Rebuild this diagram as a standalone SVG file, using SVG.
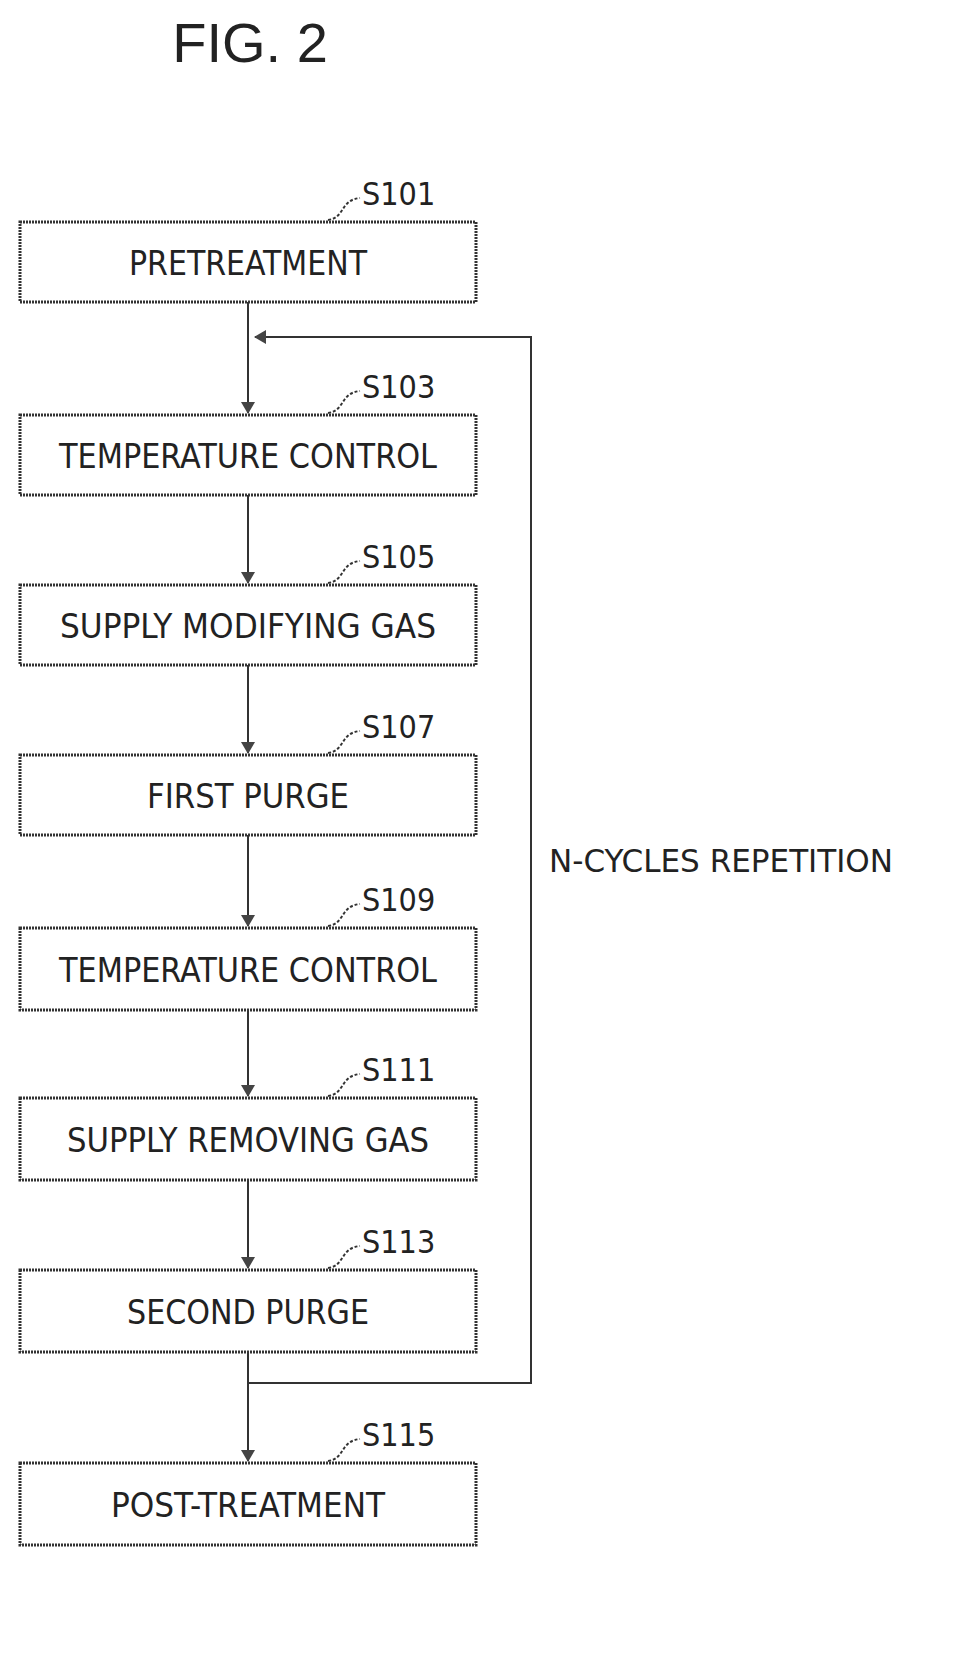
<svg xmlns="http://www.w3.org/2000/svg" width="962" height="1671" viewBox="0 0 962 1671">
<defs>
<style>
.box{fill:#fff;stroke:#333;stroke-width:3;stroke-dasharray:2 1}
.t{font-family:"DejaVu Sans Condensed","Liberation Sans",sans-serif;font-size:34px;fill:#222;text-anchor:middle}
.s{font-family:"DejaVu Sans Condensed","Liberation Sans",sans-serif;font-size:32px;fill:#222}
.ln{fill:none;stroke:#333;stroke-width:2}
</style>
<marker id="a" markerWidth="12" markerHeight="14" refX="11" refY="7" orient="auto" markerUnits="userSpaceOnUse"><path d="M0,0 L12,7 L0,14 Z" fill="#444"/></marker>
</defs>
<text x="250" y="62" style="font-family:'Liberation Sans',sans-serif;font-size:56px;fill:#222;text-anchor:middle">FIG. 2</text>
<g id="connectors">
<path class="ln" d="M248 302 V413" marker-end="url(#a)"/>
<path class="ln" d="M248 495 V583" marker-end="url(#a)"/>
<path class="ln" d="M248 665 V753" marker-end="url(#a)"/>
<path class="ln" d="M248 835 V926" marker-end="url(#a)"/>
<path class="ln" d="M248 1010 V1096" marker-end="url(#a)"/>
<path class="ln" d="M248 1180 V1268" marker-end="url(#a)"/>
<path class="ln" d="M248 1352 V1461" marker-end="url(#a)"/>
<path class="ln" d="M248 1383 H531 V337 H255" marker-end="url(#a)"/>
<text class="s" x="549" y="872" textLength="344" lengthAdjust="spacingAndGlyphs">N-CYCLES REPETITION</text>
</g>
<g id="S101"><rect class="box" x="20" y="222" width="456" height="80"/><text class="t" x="248" y="275" textLength="238" lengthAdjust="spacingAndGlyphs">PRETREATMENT</text><path class="ln" d="M328 220 C345 218 340 200 360 198" stroke-dasharray="3 2"/><text class="s" x="362" y="205">S101</text></g>
<g id="S103"><rect class="box" x="20" y="415" width="456" height="80"/><text class="t" x="248" y="468" textLength="378" lengthAdjust="spacingAndGlyphs">TEMPERATURE CONTROL</text><path class="ln" d="M328 413 C345 411 340 393 360 391" stroke-dasharray="3 2"/><text class="s" x="362" y="398">S103</text></g>
<g id="S105"><rect class="box" x="20" y="585" width="456" height="80"/><text class="t" x="248" y="638" textLength="376" lengthAdjust="spacingAndGlyphs">SUPPLY MODIFYING GAS</text><path class="ln" d="M328 583 C345 581 340 563 360 561" stroke-dasharray="3 2"/><text class="s" x="362" y="568">S105</text></g>
<g id="S107"><rect class="box" x="20" y="755" width="456" height="80"/><text class="t" x="248" y="808" textLength="202" lengthAdjust="spacingAndGlyphs">FIRST PURGE</text><path class="ln" d="M328 753 C345 751 340 733 360 731" stroke-dasharray="3 2"/><text class="s" x="362" y="738">S107</text></g>
<g id="S109"><rect class="box" x="20" y="928" width="456" height="82"/><text class="t" x="248" y="982" textLength="378" lengthAdjust="spacingAndGlyphs">TEMPERATURE CONTROL</text><path class="ln" d="M328 926 C345 924 340 906 360 904" stroke-dasharray="3 2"/><text class="s" x="362" y="911">S109</text></g>
<g id="S111"><rect class="box" x="20" y="1098" width="456" height="82"/><text class="t" x="248" y="1152" textLength="362" lengthAdjust="spacingAndGlyphs">SUPPLY REMOVING GAS</text><path class="ln" d="M328 1096 C345 1094 340 1076 360 1074" stroke-dasharray="3 2"/><text class="s" x="362" y="1081">S111</text></g>
<g id="S113"><rect class="box" x="20" y="1270" width="456" height="82"/><text class="t" x="248" y="1324" textLength="242" lengthAdjust="spacingAndGlyphs">SECOND PURGE</text><path class="ln" d="M328 1268 C345 1266 340 1248 360 1246" stroke-dasharray="3 2"/><text class="s" x="362" y="1253">S113</text></g>
<g id="S115"><rect class="box" x="20" y="1463" width="456" height="82"/><text class="t" x="248" y="1517" textLength="274" lengthAdjust="spacingAndGlyphs">POST-TREATMENT</text><path class="ln" d="M328 1461 C345 1459 340 1441 360 1439" stroke-dasharray="3 2"/><text class="s" x="362" y="1446">S115</text></g>
</svg>
